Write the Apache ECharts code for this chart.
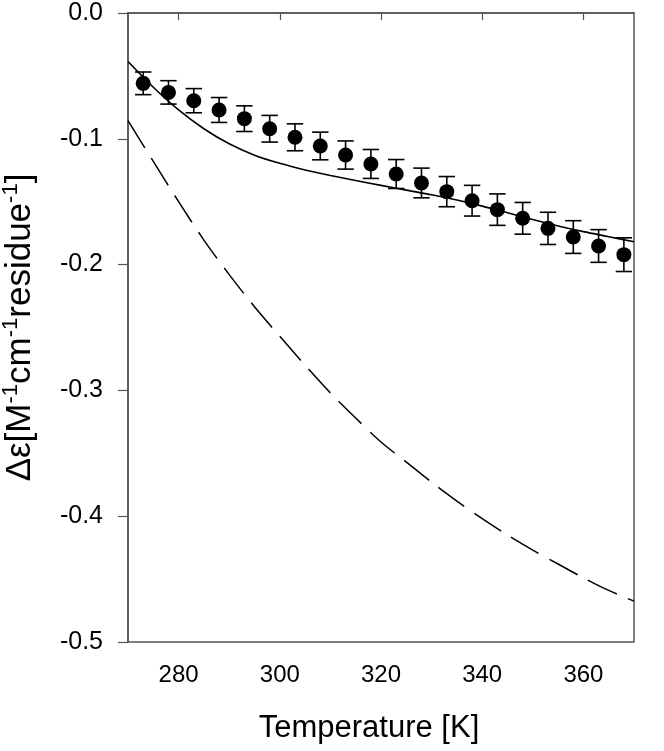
<!DOCTYPE html>
<html>
<head>
<meta charset="utf-8">
<script src="https://cdn.jsdelivr.net/npm/echarts@6/dist/echarts.min.js"></script>
<style>html,body{margin:0;padding:0;background:#fff;}#c{width:664px;height:751px;}</style>
</head>
<body>
<div id="c"></div>
<script>
// Measured data points (Temperature [K], Δε)
const temps = [273, 278, 283, 288, 293, 298, 303, 308, 313, 318, 323, 328, 333, 338, 343, 348, 353, 358, 363, 368];
const values = [-0.0559, -0.0631, -0.0697, -0.0771, -0.0840, -0.0920, -0.0988, -0.1057, -0.1129, -0.1200,
                -0.1280, -0.1351, -0.1420, -0.1492, -0.1563, -0.1632, -0.1712, -0.1781, -0.1852, -0.1921];
const errors = [0.0090, 0.0093, 0.0096, 0.0099, 0.0102, 0.0106, 0.0107, 0.0110, 0.0112, 0.0115,
                0.0115, 0.0118, 0.0120, 0.0122, 0.0125, 0.0126, 0.0128, 0.0130, 0.0130, 0.0134];
// Solid fit curve
const fitT = [270, 275, 280, 285, 290, 295, 300, 305, 310, 315, 320, 325, 330, 335, 340, 345, 350, 355, 360, 365, 370];
const fitSolid = [-0.0385, -0.0590, -0.0770, -0.0920, -0.1040, -0.1130, -0.1195, -0.1248, -0.1292, -0.1332, -0.1370,
                  -0.1408, -0.1445, -0.1487, -0.1535, -0.1588, -0.1642, -0.1693, -0.1738, -0.1778, -0.1818];
// Dashed curve
const fitDashed = [-0.0856, -0.1180, -0.1500, -0.1805, -0.2080, -0.2335, -0.2570, -0.2800, -0.3020, -0.3220, -0.3410,
                   -0.3570, -0.3730, -0.3880, -0.4020, -0.4150, -0.4270, -0.4380, -0.4490, -0.4590, -0.4675];
const xTicks = [280, 300, 320, 340, 360];

const FONT = '"Liberation Sans", Arial, Helvetica, sans-serif';
const AX = '#555';
const INK = '#000';

const chart = echarts.init(document.getElementById('c'), null, {renderer: 'canvas'});
const pts = temps.map((t, i) => [t, values[i]]);
const errData = temps.map((t, i) => [t, values[i] - errors[i], values[i] + errors[i]]);
const solid = fitT.map((t, i) => [t, fitSolid[i]]);
const dashed = fitT.map((t, i) => [t, fitDashed[i]]);

chart.setOption({
  animation: false,
  backgroundColor: '#fff',
  grid: {left: 128, right: 30, top: 13, bottom: 109, containLabel: false, outerBoundsMode: 'none',
         show: true, borderColor: AX, borderWidth: 1.5, backgroundColor: 'transparent'},
  xAxis: {
    type: 'value', min: 270, max: 370,
    name: 'Temperature [K]', nameLocation: 'middle', nameGap: 71, nameMoveOverlap: false,
    nameTextStyle: {fontFamily: FONT, fontSize: 31, color: INK, padding: [0, 24, 0, 0]},
    axisLine: {show: true, lineStyle: {color: AX, width: 1.5}},
    axisTick: {show: true, customValues: xTicks, length: 7, lineStyle: {color: AX, width: 1.2}},
    axisLabel: {customValues: xTicks, margin: 21, fontFamily: FONT, fontSize: 24, color: INK},
    splitLine: {show: false}
  },
  yAxis: {
    type: 'value', min: -0.5, max: 0, interval: 0.1,
    name: '{n|Δε[M}{s|-1}{n|cm}{s|-1}{n|residue}{s|-1}{n|]}',
    nameLocation: 'middle', nameRotate: 90, nameGap: 88, nameMoveOverlap: false,
    nameTextStyle: {
      fontFamily: FONT, color: INK,
      rich: {
        n: {fontFamily: FONT, fontSize: 35, color: INK, lineHeight: 40},
        s: {fontFamily: FONT, fontSize: 22, color: INK, lineHeight: 22, verticalAlign: 'top'}
      }
    },
    axisLine: {show: true, lineStyle: {color: AX, width: 1.5}},
    axisTick: {show: true, inside: false, length: 10, lineStyle: {color: AX, width: 1.2}},
    axisLabel: {margin: 25, fontFamily: FONT, fontSize: 25, color: INK, formatter: v => v.toFixed(1)},
    splitLine: {show: false}
  },
  series: [
    {
      type: 'line', data: dashed, symbol: 'none', smooth: 0.3,
      lineStyle: {color: INK, width: 1.5, type: [32, 12]}, z: 2
    },
    {
      type: 'line', data: solid, symbol: 'none', smooth: 0.3,
      lineStyle: {color: INK, width: 1.6}, z: 2
    },
    {
      type: 'custom', data: errData, z: 3,
      renderItem: function (params, api) {
        const x = api.value(0);
        const lo = api.coord([x, api.value(1)]);
        const hi = api.coord([x, api.value(2)]);
        const w = 8.2;
        const st = {stroke: INK, lineWidth: 1.6};
        return {
          type: 'group', children: [
            {type: 'line', shape: {x1: lo[0], y1: lo[1], x2: hi[0], y2: hi[1]}, style: st},
            {type: 'line', shape: {x1: lo[0] - w, y1: lo[1], x2: lo[0] + w, y2: lo[1]}, style: st},
            {type: 'line', shape: {x1: hi[0] - w, y1: hi[1], x2: hi[0] + w, y2: hi[1]}, style: st}
          ]
        };
      }
    },
    {
      type: 'scatter', data: pts, symbol: 'circle', symbolSize: 15,
      itemStyle: {color: INK, opacity: 1}, z: 4
    }
  ]
});
</script>
</body>
</html>
